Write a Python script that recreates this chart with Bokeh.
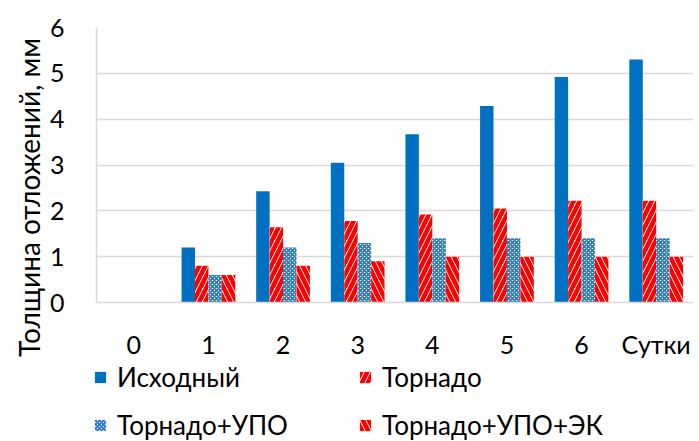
import math
from bokeh.plotting import figure
from bokeh.layouts import column, row
from bokeh.models import (ColumnDataSource, FactorRange, Range1d, Legend, LegendItem,
                          Label, SingleIntervalTicker)
from bokeh.transform import dodge
from bokeh.embed import file_html
from bokeh.resources import INLINE

# Days of operation (last group is one full day)
days = ["0", "1", "2", "3", "4", "5", "6", "Сутки"]

# Deposit thickness, mm
ishodny = [0, 1.2, 2.43, 3.05, 3.67, 4.29, 4.92, 5.3]
tornado = [0, 0.8, 1.64, 1.78, 1.92, 2.05, 2.22, 2.22]
tornado_upo = [0, 0.6, 1.2, 1.3, 1.4, 1.4, 1.4, 1.4]
tornado_upo_ek = [0, 0.6, 0.8, 0.9, 1.0, 1.0, 1.0, 1.0]

series_names = ["Исходный", "Торнадо", "Торнадо+УПО", "Торнадо+УПО+ЭК"]
y_title = "Толщина отложений, мм"

FONT = "Lato"
TEXT_COLOR = "#000000"
GRID_COLOR = "#d9d9d9"

W, H = 699, 441
TITLE_W = 46     # strip holding the vertical axis title
LEGEND_H = 80    # strip holding the legend

# Fill style of each series (solid, stripes, small crosses, back stripes)
styles = [
    dict(fill_color="#0070c0", line_color=None),
    dict(fill_color="white", line_color=None, hatch_pattern="right_diagonal_line",
         hatch_color="#ff0000", hatch_scale=12, hatch_weight=4.5),
    dict(fill_color="white", line_color=None, hatch_pattern="diagonal_cross",
         hatch_color="#2273c9", hatch_scale=4, hatch_weight=1.6),
    dict(fill_color="white", line_color=None, hatch_pattern="left_diagonal_line",
         hatch_color="#ff0000", hatch_scale=12, hatch_weight=4.5),
]


def bare_figure(width, height, xr, yr):
    f = figure(
        width=width, height=height, x_range=xr, y_range=yr,
        output_backend="svg", toolbar_location=None,
        x_axis_location=None, y_axis_location=None,
        min_border_left=0, min_border_right=0, min_border_top=0, min_border_bottom=0,
        background_fill_color="white", border_fill_color="white",
    )
    f.outline_line_color = None
    f.grid.grid_line_color = None
    f.frame_align = False
    return f


source = ColumnDataSource(dict(
    day=days, a=ishodny, b=tornado, c=tornado_upo, d=tornado_upo_ek,
))

p = figure(
    width=W - TITLE_W, height=H - LEGEND_H,
    x_range=FactorRange(*days, range_padding=0),
    y_range=Range1d(0, 6),
    output_backend="svg", toolbar_location=None,
    min_border_left=96 - TITLE_W, min_border_right=6, min_border_top=27,
    min_border_bottom=58,
    background_fill_color="white", border_fill_color="white",
)
p.outline_line_color = None
p.frame_align = False

bw = 0.18
offsets = [-0.27, -0.09, 0.09, 0.27]
for col, off, st in zip(["a", "b", "c", "d"], offsets, styles):
    p.vbar(x=dodge("day", off, range=p.x_range), top=col, width=bw, source=source, **st)

# Grid and axes
p.xgrid.grid_line_color = None
p.ygrid.grid_line_color = GRID_COLOR
p.ygrid.grid_line_width = 1.5
p.yaxis.ticker = SingleIntervalTicker(interval=1)

for ax in (p.xaxis[0], p.yaxis[0]):
    ax.axis_line_color = GRID_COLOR
    ax.axis_line_width = 1.5
    ax.major_tick_line_color = None
    ax.minor_tick_line_color = None
    ax.major_tick_out = 0
    ax.major_tick_in = 0
    ax.major_label_text_font = FONT
    ax.major_label_text_font_size = "25px"
    ax.major_label_text_color = TEXT_COLOR

p.yaxis.major_label_standoff = 28
p.xaxis.major_label_standoff = 26

# Vertical axis title strip (pixel coordinates)
tt = bare_figure(TITLE_W, H, Range1d(0, TITLE_W), Range1d(0, H))
tt.add_layout(Label(
    x=28, y=H - 197, text=y_title, angle=math.pi / 2,
    text_align="center", text_baseline="middle",
    text_font=FONT, text_font_size="28px", text_color=TEXT_COLOR,
))

# Legend strip under the chart
leg = bare_figure(W - TITLE_W, LEGEND_H, Range1d(0, 1), Range1d(0, 1))
# zero-size swatch renderers that only lend their styles to the legend
swatches = [leg.vbar(x=[0], top=[0], width=0, **st) for st in styles]

legend = Legend(
    items=[LegendItem(label=n, renderers=[r]) for n, r in zip(series_names, swatches)],
    location=(93 - TITLE_W, 0), orientation="horizontal", ncols=2,
    label_text_font=FONT, label_text_font_size="26px", label_text_color=TEXT_COLOR,
    glyph_width=14, glyph_height=14, label_height=32, label_width=225,
    label_standoff=10, spacing=16, padding=0, margin=0,
    background_fill_alpha=0, border_line_color=None,
)
leg.add_layout(legend, "center")

layout = row(tt, column(p, leg, spacing=0), spacing=0)
open("out.html", "w").write(file_html(layout, INLINE))
